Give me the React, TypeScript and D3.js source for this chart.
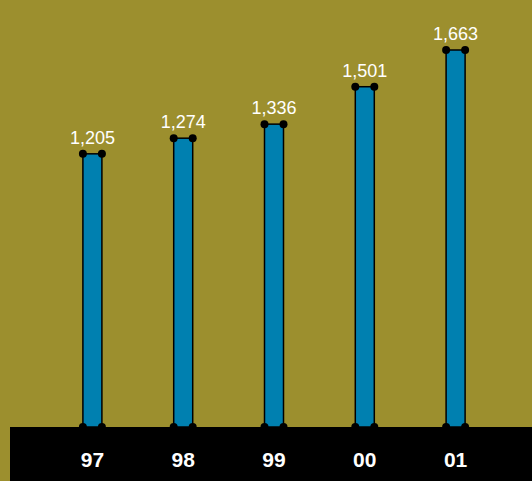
import React from "react";
import * as d3 from "d3";

const categories = ["97", "98", "99", "00", "01"];
const values = [1205, 1274, 1336, 1501, 1663];

const W = 532;
const H = 481;

export default function App() {
  const x = d3.scaleBand<string>().domain(categories).range([47, 501]);
  const y = d3.scaleLinear().domain([0, 1663]).range([427, 50]);
  const barW = 19;
  const fmt = d3.format(",");
  return (
    <svg width={W} height={H} style={{ position: "absolute", left: 0, top: 0 }}>
      <rect x={0} y={0} width={W} height={H} fill="#9c8f2e" />
      <rect x={10} y={427} width={W - 10} height={H - 427} fill="#000" />
      {categories.map((c, i) => {
        const cx = (x(c) as number) + x.bandwidth() / 2;
        const x0 = cx - barW / 2;
        const x1 = cx + barW / 2;
        const yt = y(values[i]);
        const yb = y(0);
        return (
          <g key={c}>
            <rect x={x0} y={yt} width={barW} height={yb - yt} fill="#0080b0" stroke="#000" strokeWidth={1.5} />
            <circle cx={x0} cy={yt} r={4} fill="#000" />
            <circle cx={x1} cy={yt} r={4} fill="#000" />
            <circle cx={x0} cy={yb} r={4} fill="#000" />
            <circle cx={x1} cy={yb} r={4} fill="#000" />
            <text x={cx} y={yt - 10} textAnchor="middle" fill="#fff" fontFamily="Liberation Sans, Arial, sans-serif" fontSize={18}>
              {fmt(values[i])}
            </text>
            <text x={cx} y={467} textAnchor="middle" fill="#fff" fontFamily="Liberation Sans, Arial, sans-serif" fontSize={21} fontWeight="bold">
              {c}
            </text>
          </g>
        );
      })}
    </svg>
  );
}
